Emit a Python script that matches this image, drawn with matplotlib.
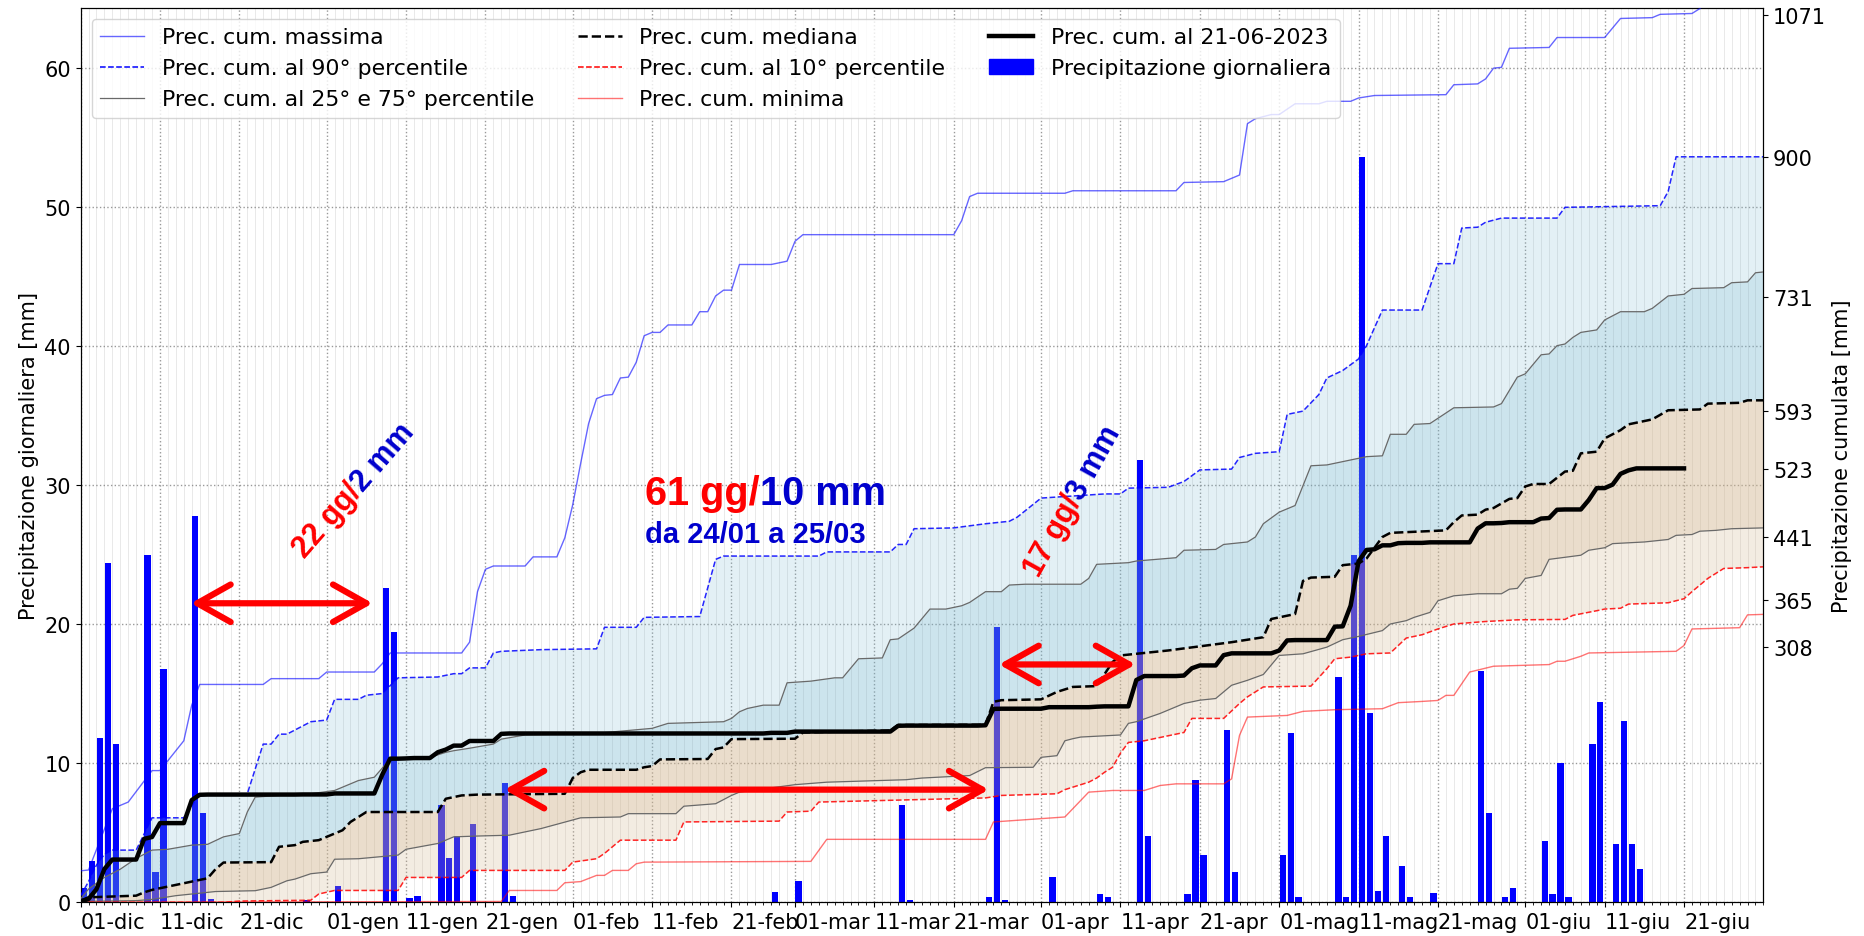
import numpy as np
import pandas as pd
import matplotlib
matplotlib.use("Agg")
import matplotlib.pyplot as plt
import matplotlib.dates as mdates
from matplotlib.lines import Line2D
from matplotlib.patches import Patch

W, H = 1864, 937

inizio = pd.Timestamp("2022-12-01")
fine = pd.Timestamp("2023-07-01")
oggi = pd.Timestamp("2023-06-21")

# precipitazione giornaliera (solo i giorni piovosi)
giorni_pioggia = [
    "2022-12-01", "2022-12-02", "2022-12-03", "2022-12-04", "2022-12-05",
    "2022-12-09", "2022-12-10", "2022-12-11", "2022-12-15", "2022-12-16",
    "2022-12-17", "2022-12-29", "2023-01-02", "2023-01-08", "2023-01-09",
    "2023-01-11", "2023-01-12", "2023-01-15", "2023-01-16", "2023-01-17",
    "2023-01-19", "2023-01-23", "2023-01-24", "2023-02-26", "2023-03-01",
    "2023-03-14", "2023-03-15", "2023-03-25", "2023-03-26", "2023-03-27",
    "2023-04-02", "2023-04-08", "2023-04-09", "2023-04-13", "2023-04-14",
    "2023-04-19", "2023-04-20", "2023-04-21", "2023-04-24", "2023-04-25",
    "2023-05-01", "2023-05-02", "2023-05-03", "2023-05-08", "2023-05-09",
    "2023-05-10", "2023-05-11", "2023-05-12", "2023-05-13", "2023-05-14",
    "2023-05-16", "2023-05-17", "2023-05-20", "2023-05-26", "2023-05-27",
    "2023-05-29", "2023-05-30", "2023-06-03", "2023-06-04", "2023-06-05",
    "2023-06-06", "2023-06-09", "2023-06-10", "2023-06-12", "2023-06-13",
    "2023-06-14", "2023-06-15",
]
pioggia_mm = [
    1.0, 3.0, 11.8, 24.4, 11.4,
    25.0, 2.2, 16.8, 27.8, 6.4,
    0.25, 0.15, 1.2, 22.6, 19.4,
    0.3, 0.45, 7.0, 3.2, 4.8,
    5.6, 8.6, 0.45, 0.75, 1.55,
    7.0, 0.2, 0.4, 19.8, 0.2,
    1.85, 0.6, 0.4, 31.8, 4.8,
    0.6, 8.8, 3.4, 12.4, 2.2,
    3.4, 12.2, 0.4, 16.2, 0.4,
    25.0, 53.6, 13.6, 0.8, 4.8,
    2.6, 0.35, 0.65, 16.6, 6.4,
    0.35, 1.0, 4.4, 0.6, 10.0,
    0.35, 11.4, 14.4, 4.2, 13.0,
    4.2, 2.4,
]

# curve cumulate climatologiche: (giorni dal 01-dic, mm)
massima = [(0, 38), (1, 39), (4, 113), (5, 117), (6, 121), (9, 159), (10, 159), (13, 195),
           (14, 238), (15, 263), (23, 263), (24, 270), (30, 270), (31, 278), (37, 278),
           (38, 288), (39, 301), (48, 301), (49, 314), (50, 375), (51, 402), (52, 406),
           (56, 406), (57, 417), (60, 417), (61, 440), (62, 480), (63, 530), (64, 578),
           (65, 608), (66, 612), (67, 613), (68, 633), (69, 634), (70, 652), (71, 684),
           (72, 688), (73, 688), (74, 697), (77, 697), (78, 713), (79, 713), (80, 732),
           (81, 739), (82, 739), (83, 770), (87, 770), (89, 774), (90, 798), (91, 806),
           (110, 806), (111, 823), (112, 852), (113, 856), (124, 856), (125, 859),
           (138, 859), (139, 869), (144, 870), (145, 874), (146, 878), (147, 940),
           (148, 946), (150, 951), (151, 951), (153, 964), (156, 964), (157, 967),
           (160, 967), (161, 971), (163, 974), (172, 975), (173, 987), (176, 988),
           (177, 994), (178, 1007), (179, 1008), (180, 1031), (185, 1032), (186, 1044),
           (192, 1044), (194, 1067), (198, 1068), (199, 1072), (203, 1073), (204, 1079),
           (205, 1090), (212, 1110)]
p90 = [(0, 8), (1, 25), (2, 45), (3, 58), (4, 63), (7, 63), (9, 102), (13, 102), (15, 131),
       (21, 131), (23, 191), (24, 191), (25, 203), (26, 203), (29, 218), (31, 220), (32, 245),
       (35, 245), (36, 250), (38, 252), (40, 271), (45, 272), (47, 276), (48, 276), (49, 283),
       (51, 283), (52, 301), (53, 303), (58, 305), (65, 306), (66, 332), (70, 332), (71, 344),
       (78, 345), (80, 414), (81, 418), (93, 418), (94, 423), (102, 423), (103, 432),
       (104, 432), (105, 451), (110, 452), (114, 457), (117, 460), (118, 465), (121, 488),
       (129, 493), (131, 493), (132, 500), (137, 501), (139, 508), (141, 522), (145, 523),
       (146, 537), (148, 542), (151, 544), (152, 589), (154, 593), (156, 613), (157, 633),
       (159, 642), (161, 656), (162, 672), (164, 715), (169, 715), (171, 771), (173, 771),
       (174, 814), (176, 815), (177, 821), (179, 826), (186, 826), (187, 839), (199, 841),
       (200, 858), (201, 900), (212, 900)]
p75 = [(0, 4), (1, 16), (3, 30), (5, 40), (7, 53), (9, 63), (11, 64), (14, 69), (16, 70),
       (18, 79), (20, 83), (21, 109), (22, 127), (25, 129), (29, 131), (32, 135), (35, 147),
       (37, 151), (39, 173), (44, 175), (46, 181), (47, 183), (49, 186), (52, 191), (53, 197),
       (56, 202), (65, 204), (72, 210), (74, 216), (81, 218), (82, 222), (83, 230), (84, 234),
       (86, 238), (88, 238), (89, 265), (92, 267), (95, 271), (96, 271), (98, 294), (101, 295),
       (102, 317), (103, 318), (105, 331), (107, 354), (109, 354), (111, 358), (112, 362),
       (114, 375), (116, 375), (117, 383), (119, 384), (126, 384), (127, 391), (128, 408),
       (130, 409), (132, 410), (133, 412), (138, 416), (139, 425), (143, 426), (144, 432),
       (147, 435), (148, 441), (149, 457), (151, 471), (153, 479), (155, 527), (157, 528),
       (160, 534), (162, 538), (164, 539), (165, 565), (167, 565), (168, 577), (170, 578),
       (173, 597), (178, 598), (179, 602), (181, 634), (182, 638), (184, 661), (185, 662),
       (186, 672), (187, 674), (188, 682), (189, 688), (191, 691), (192, 703), (194, 713),
       (197, 713), (198, 717), (200, 732), (202, 734), (203, 741), (207, 742), (208, 748),
       (210, 749), (211, 760), (212, 761)]
mediana = [(0, 2), (1, 6), (7, 8), (8, 12), (9, 15), (12, 21), (14, 25), (16, 29), (17, 40),
           (18, 48), (24, 48.5), (25, 67), (27, 69), (28, 73), (30, 75), (31, 79), (33, 87),
           (34, 97), (36, 109), (45, 109), (46, 125), (48, 129), (50, 130), (61, 131),
           (62, 150), (63, 157), (64, 160), (70, 160), (71, 163), (72, 164.5), (73, 172.5),
           (79, 173), (80, 185), (81, 187), (82, 197), (90, 197.5), (91, 205), (102, 207.5),
           (103, 214), (114, 214.4), (115, 242), (116, 244), (121, 245), (123, 254),
           (125, 260), (128, 261), (130, 290), (131, 298), (133, 300), (137, 304), (141, 309),
           (145, 314), (149, 320), (150, 342), (153, 348), (154, 388), (155, 392), (158, 393),
           (159, 407), (161, 409), (162, 415), (164, 441), (165, 446), (172, 449), (173, 459),
           (174, 467), (176, 468), (177, 474), (178, 476), (180, 487), (181, 488), (182, 502),
           (183, 505), (185, 505), (187, 520), (188, 521), (189, 542), (191, 544), (192, 560),
           (194, 570), (195, 577), (198, 583), (200, 594), (204, 595), (205, 602), (209, 603),
           (210, 606), (212, 606)]
p25 = [(0, 1), (7, 2), (9, 3.5), (12, 8), (14, 10), (17, 13), (22, 14), (24, 18), (26, 26),
       (27, 28), (29, 34.5), (31, 36.5), (32, 52), (35, 52.6), (40, 57), (41, 64), (45, 71),
       (47, 79), (50, 80), (54, 81), (58, 89), (63, 102), (68, 103), (69, 107), (75, 107),
       (76, 116), (80, 119), (82, 129), (83, 133), (90, 142), (94, 145), (104, 148),
       (106, 150), (112, 153), (114, 162.5), (120, 163), (121, 175), (123, 177), (124, 195),
       (125, 197.5), (126, 199.5), (131, 202), (132, 216), (133, 218), (136, 228), (139, 240),
       (141, 244), (143, 246), (145, 262), (147, 268), (149, 275), (151, 298), (154, 300),
       (157, 308), (159, 317), (161, 321), (164, 328), (165, 336), (167, 340), (168, 344),
       (170, 350), (171, 364), (173, 370), (176, 372.5), (179, 372.5), (180, 378),
       (181, 379), (182, 391), (184, 394.6), (185, 414), (189, 419), (190, 425), (192, 428),
       (193, 433), (197, 435), (200, 438), (201, 443), (203, 444), (204, 448), (206, 449),
       (208, 451), (212, 452)]
p10 = [(0, 0), (18, 0), (20, 1.5), (29, 2.5), (30, 10), (32, 14.3), (40, 14.3), (41, 30),
       (48, 30), (49, 38.5), (61, 38.5), (62, 48.5), (65, 52.6), (66, 59), (68, 75), (75, 75),
       (76, 97), (88, 98), (89, 109), (92, 110), (93, 121), (114, 126), (116, 129), (123, 131),
       (124, 136), (127, 145), (128, 150), (129, 157), (130, 163), (131, 180), (132, 193),
       (134, 195), (135, 197), (139, 205), (140, 222), (144, 222), (146, 240), (147, 248),
       (149, 260), (155, 261), (157, 282), (158, 294), (160, 296), (162, 300), (165, 301),
       (167, 319), (169, 323), (171, 330), (173, 336), (177, 339), (181, 341), (187, 341.5),
       (188, 346.4), (191, 352), (192, 354), (194, 355), (195, 360), (200, 361.6),
       (202, 366.5), (203, 375), (205, 391), (207, 403), (210, 404), (212, 405)]
minima = [(0, 0), (53, 1), (54, 14.3), (60, 14.3), (61, 23.6), (63, 25), (65, 32.5), (66, 32.5),
          (67, 38.5), (69, 38.5), (70, 46.5), (71, 48.5), (92, 49.4), (94, 76), (114, 76),
          (115, 97), (124, 103), (125, 113), (127, 133), (130, 135), (134, 135), (136, 141),
          (138, 143), (144, 143), (145, 149), (146, 201.5), (147, 223.6), (152, 225.6),
          (154, 230.5), (158, 232.5), (164, 233.7), (166, 241), (169, 242.5), (171, 243.7),
          (172, 249.8), (173, 249.8), (175, 278), (178, 285), (185, 287), (186, 291),
          (187, 291), (189, 297), (190, 301), (201, 303), (202, 310), (203, 330), (209, 331.5),
          (210, 347), (212, 347.6)]

# valori delle curve al 21-06 (tacche asse destro)
valori_al_21_06 = [308, 365, 441, 523, 593, 731, 900, 1071]
mesi = [(2022, 12, "dic"), (2023, 1, "gen"), (2023, 2, "feb"), (2023, 3, "mar"),
        (2023, 4, "apr"), (2023, 5, "mag"), (2023, 6, "giu")]

base = mdates.date2num(inizio)


def xy(curva):
    a = np.array(curva, dtype=float)
    return base + a[:, 0], a[:, 1]


fig = plt.figure(figsize=(W / 100, H / 100), dpi=100)
ax = fig.add_axes([80.6 / W, 1 - 903.3 / H, (1763.4 - 80.6) / W, (903.3 - 8.7) / H])
ax2 = ax.twinx()

# barre giornaliere
xb = mdates.date2num(pd.to_datetime(giorni_pioggia)) + 0.45
ax.bar(xb, pioggia_mm, width=0.8, color="blue", zorder=2)

# bande percentili
def banda(su, giu, colore, alpha):
    x1, y1 = xy(su)
    x2, y2 = xy(giu)
    ax2.fill(np.concatenate([x1, x2[::-1]]), np.concatenate([y1, y2[::-1]]),
             color=colore, alpha=alpha, lw=0, zorder=1)

banda(p90, mediana, "#73b4cd", 0.2)
banda(p75, mediana, "#73b4cd", 0.2)
banda(mediana, p10, "tan", 0.25)
banda(mediana, p25, "tan", 0.25)

ax2.plot(*xy(massima), color="blue", lw=1, alpha=0.6, zorder=3)
ax2.plot(*xy(p90), color="blue", lw=1.1, ls="--", alpha=0.85, zorder=3)
ax2.plot(*xy(p75), color="dimgray", lw=0.9, zorder=3)
ax2.plot(*xy(p25), color="dimgray", lw=0.9, zorder=3)
ax2.plot(*xy(mediana), color="black", lw=1.8, ls="--", zorder=3)
ax2.plot(*xy(p10), color="red", lw=1.1, ls="--", alpha=0.85, zorder=3)
ax2.plot(*xy(minima), color="red", lw=1, alpha=0.55, zorder=3)

# cumulata dell'anno in corso
serie = pd.Series(0.0, index=pd.date_range(inizio, oggi, freq="D"))
serie[pd.to_datetime(giorni_pioggia)] = pioggia_mm
cum = serie.cumsum()
ax2.plot(mdates.date2num(cum.index), cum.values, color="black", lw=3.2, zorder=4)

# assi
ax.set_xlim(base, mdates.date2num(fine))
ax.set_ylim(0, max(pioggia_mm) * 1.2)
ax2.set_ylim(0, max(v for _, v in p90) * 1.2)

tick_date, tick_lab = [], []
for anno, m, nome in mesi:
    for g in (1, 11, 21):
        tick_date.append(pd.Timestamp(anno, m, g))
        tick_lab.append(f"{g:02d}-{nome}")
ax.set_xticks(mdates.date2num(tick_date))
ax.set_xticklabels(tick_lab, ha="left")
ax.set_xticks(np.arange(base, mdates.date2num(fine) + 1), minor=True)
ax.tick_params(labelsize=15)
ax2.set_yticks(valori_al_21_06)
ax2.tick_params(labelsize=15)

ax.grid(which="major", color="gray", ls=":", lw=1, alpha=0.8)
ax.grid(which="minor", axis="x", color="lightgray", ls="-", lw=0.5, alpha=0.7)

ax.set_ylabel("Precipitazione giornaliera [mm]", fontsize=15)
ax2.set_ylabel("Precipitazione cumulata [mm]", fontsize=15)

# legenda
handles = [
    Line2D([], [], color="blue", lw=1, alpha=0.6, label="Prec. cum. massima"),
    Line2D([], [], color="blue", lw=1.1, ls="--", label="Prec. cum. al 90° percentile"),
    Line2D([], [], color="dimgray", lw=0.9, label="Prec. cum. al 25° e 75° percentile"),
    Line2D([], [], color="black", lw=1.8, ls="--", label="Prec. cum. mediana"),
    Line2D([], [], color="red", lw=1.1, ls="--", label="Prec. cum. al 10° percentile"),
    Line2D([], [], color="red", lw=1, alpha=0.55, label="Prec. cum. minima"),
    Line2D([], [], color="black", lw=3.2, label=f"Prec. cum. al {oggi:%d-%m-%Y}"),
    Patch(color="blue", label="Precipitazione giornaliera"),
]
leg = ax2.legend(handles=handles, loc="upper left", ncol=3, fontsize=15.8)
leg.set_zorder(10)

# frecce dei periodi secchi (altezza sull'asse sinistro)
def freccia(d1, d2, h):
    k = ax2.get_ylim()[1] / ax.get_ylim()[1]
    ax2.annotate("", xy=(base + d2, h * k), xytext=(base + d1, h * k),
                 arrowprops=dict(arrowstyle="<->,head_length=0.8,head_width=0.45",
                                 color="red", lw=4.5, mutation_scale=30,
                                 shrinkA=0, shrinkB=0, capstyle="round",
                                 joinstyle="round"), zorder=6)

freccia(13.9, 36.8, 21.5)
freccia(53.4, 114.4, 8.1)
freccia(115.7, 132.9, 17.1)

# scritte
fig.canvas.draw()
rend = fig.canvas.get_renderer()


def scritta(x, y, parti, size, rot=0):
    ang = np.deg2rad(rot)
    for s, col in parti:
        t = fig.text(x / W, 1 - y / H, s, color=col, fontsize=size, fontweight="bold",
                     family="Liberation Sans", rotation=rot, rotation_mode="anchor",
                     ha="left", va="baseline", zorder=7)
        w, _, _ = rend.get_text_width_height_descent(s, t.get_fontproperties(), ismath=False)
        x += w * np.cos(ang)
        y -= w * np.sin(ang)


scritta(305, 559, [("22 gg/", "red"), ("2 mm", "mediumblue")], 22, rot=49)
scritta(1039, 579, [("17 gg/", "red"), ("3 mm", "mediumblue")], 22, rot=61)
scritta(645, 505, [("61 gg/", "red"), ("10 mm", "mediumblue")], 28.5)
scritta(645, 543, [("da 24/01 a 25/03", "mediumblue")], 21)

fig.savefig("out.png", dpi=100)
